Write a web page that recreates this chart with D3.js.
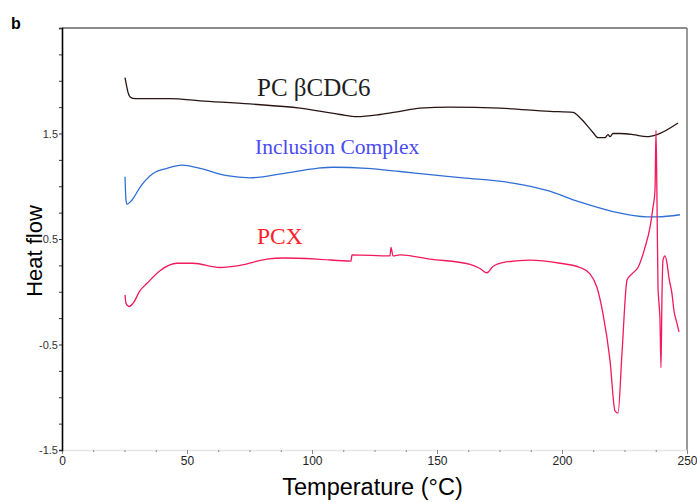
<!DOCTYPE html>
<html>
<head>
<meta charset="utf-8">
<script src="https://cdn.jsdelivr.net/npm/d3@7"></script>
<style>
  body { margin: 0; background: #fff; }
  svg { display: block; }
</style>
</head>
<body>
<div id="chart"></div>
<script>
// DSC curves: temperature (°C) and heat flow
var pcbTemp = [25.2, 25.6, 26.4, 27.6, 29.2, 43.2, 55.2, 75.2, 95.2, 111.2, 118, 127.2, 135.2, 143.2, 155.2, 175.2, 195.2, 204.4, 207.2, 212.4, 214.4, 217.2, 218.4, 219.2, 220.4, 223.2, 228.4, 234, 238, 246.4];
var pcbHeat = [2.03, 1.98, 1.89, 1.84, 1.83, 1.83, 1.81, 1.78, 1.74, 1.68, 1.66, 1.68, 1.71, 1.74, 1.75, 1.74, 1.71, 1.70, 1.65, 1.51, 1.46, 1.46, 1.49, 1.47, 1.50, 1.50, 1.49, 1.47, 1.49, 1.60];

var icTemp = [25.2, 25.6, 26, 28, 31.2, 36.4, 42, 48, 55.2, 66, 75.2, 88.4, 102, 108.4, 122, 135.2, 147.2, 160.4, 180.4, 194, 207.2, 220.4, 234, 238, 247.2];
var icHeat = [1.09, 0.87, 0.83, 0.87, 0.99, 1.12, 1.17, 1.20, 1.17, 1.10, 1.08, 1.12, 1.17, 1.18, 1.17, 1.14, 1.11, 1.08, 1.03, 0.96, 0.85, 0.76, 0.71, 0.71, 0.73];

var pcxTemp = [25.2, 25.6, 26.8, 28.4, 31.2, 34, 39.2, 46, 52.4, 63.2, 71.2, 82, 88.4, 102, 115.6, 116, 131.2, 131.6, 132.4, 135.2, 147.2, 163.2, 167.2, 170, 172.4, 177.2, 187.2, 199.2, 207.2, 211.2, 214, 216.4, 219.2, 221.2, 222.4, 224, 226, 228, 230.4, 233.2, 235.2, 236.4, 237.2, 237.6, 238, 238.4, 238.8, 239.2, 239.6, 240, 240.4, 241.2, 242, 242.8, 244, 244.8, 246, 246.8];
var pcxHeat = [-0.03, -0.11, -0.14, -0.11, 0.01, 0.08, 0.20, 0.27, 0.27, 0.23, 0.25, 0.31, 0.32, 0.31, 0.29, 0.35, 0.34, 0.42, 0.34, 0.35, 0.31, 0.26, 0.22, 0.18, 0.24, 0.28, 0.30, 0.27, 0.23, 0.17, 0.04, -0.21, -0.65, -1.13, -1.15, -0.58, 0.11, 0.17, 0.23, 0.42, 0.61, 0.80, 0.96, 1.53, 0.86, 0.04, -0.11, -0.27, -0.72, -0.02, 0.30, 0.34, 0.27, 0.13, -0.02, -0.18, -0.30, -0.38];

var xTicks = [0, 50, 100, 150, 200, 250];
var yTicks = [1.5, 0.5, -0.5, -1.5];

var w = 697, h = 502;
var mLeft = 62, mRight = 687, mTop = 28, mBottom = 450;

var svg = d3.select("#chart").append("svg")
  .attr("width", w)
  .attr("height", h);

var x = d3.scaleLinear().domain([0, 250]).range([mLeft, mRight]);
var y = d3.scaleLinear().domain([-1.5, 2.5]).range([mBottom, mTop]);

// frame: top and right borders
svg.append("line")
  .attr("x1", mLeft).attr("x2", mRight).attr("y1", mTop).attr("y2", mTop)
  .attr("stroke", "#666").attr("stroke-width", 1.5);
svg.append("line")
  .attr("x1", mRight).attr("x2", mRight).attr("y1", mTop).attr("y2", mBottom)
  .attr("stroke", "#777").attr("stroke-width", 1.5);

// bottom axis
var xAxis = d3.axisBottom(x)
  .tickValues(d3.range(0, 251, 12.5))
  .tickSize(3)
  .tickFormat(function (d) { return xTicks.indexOf(d) >= 0 ? d : ""; });
var gx = svg.append("g")
  .attr("transform", "translate(0," + mBottom + ")")
  .call(xAxis);
gx.select(".domain").attr("stroke", "#e6e6e6").attr("stroke-width", 1.5);
gx.selectAll(".tick line").attr("stroke", "#888")
  .attr("y2", function (d) { return xTicks.indexOf(d) >= 0 ? 4 : 2; });
gx.selectAll(".tick text")
  .attr("font-family", "Liberation Sans, Arial, sans-serif")
  .attr("font-size", 12)
  .attr("fill", "#222")
  .attr("y", 6);

// left axis
var yAxis = d3.axisLeft(y)
  .tickValues(d3.range(-1.5, 2.51, 0.25))
  .tickSize(3)
  .tickFormat(function (d) { return yTicks.indexOf(d) >= 0 ? d : ""; });
var gy = svg.append("g")
  .attr("transform", "translate(" + mLeft + ",0)")
  .call(yAxis);
gy.select(".domain").attr("stroke", "#000").attr("stroke-width", 1.6);
gy.selectAll(".tick line").attr("stroke", "#333");
gy.selectAll(".tick text")
  .attr("font-family", "Liberation Sans, Arial, sans-serif")
  .attr("font-size", 11)
  .attr("fill", "#333")
  .attr("x", -4);

// curves
var line = d3.line()
  .curve(d3.curveMonotoneX)
  .x(function (d) { return x(d[0]); })
  .y(function (d) { return y(d[1]); });

function draw(temp, heat, col) {
  svg.append("path")
    .datum(d3.zip(temp, heat))
    .attr("fill", "none")
    .attr("stroke", col)
    .attr("stroke-width", 1.3)
    .attr("stroke-linejoin", "round")
    .attr("d", line);
}
draw(icTemp, icHeat, "#2f6fd4");
draw(pcbTemp, pcbHeat, "#2a1515");
draw(pcxTemp, pcxHeat, "#f2195c");

// series labels
var serif = "Liberation Serif, Times New Roman, serif";
svg.append("text").attr("x", x(78)).attr("y", y(1.86))
  .attr("font-family", serif).attr("font-size", 25).attr("fill", "#1e1e1e")
  .text("PC βCDC6");
svg.append("text").attr("x", x(77.2)).attr("y", y(1.31))
  .attr("font-family", serif).attr("font-size", 21.5).attr("fill", "#4b4bf5")
  .text("Inclusion Complex");
svg.append("text").attr("x", x(78)).attr("y", y(0.45))
  .attr("font-family", serif).attr("font-size", 23.5).attr("fill", "#ff1f2a")
  .text("PCX");

// axis titles
svg.append("text")
  .attr("x", (mLeft + mRight) / 2 - 2).attr("y", 495)
  .attr("text-anchor", "middle")
  .attr("font-family", "Liberation Sans, Arial, sans-serif")
  .attr("font-size", 23.5)
  .text("Temperature (°C)");
svg.append("text")
  .attr("transform", "translate(42,251) rotate(-90)")
  .attr("text-anchor", "middle")
  .attr("font-family", "Liberation Sans, Arial, sans-serif")
  .attr("font-size", 22)
  .text("Heat flow");

// panel letter
svg.append("text")
  .attr("x", 11).attr("y", 29)
  .attr("font-family", "Liberation Sans, Arial, sans-serif")
  .attr("font-weight", "bold")
  .attr("font-size", 16)
  .text("b");
</script>
</body>
</html>
